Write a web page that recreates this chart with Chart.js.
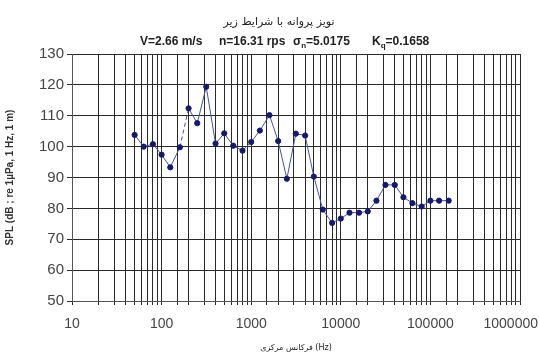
<!DOCTYPE html>
<html>
<head>
<meta charset="utf-8">
<script src="https://cdn.jsdelivr.net/npm/chart.js@4/dist/chart.umd.min.js"></script>
<style>
  html, body { margin: 0; padding: 0; background: #ffffff; }
  #wrap { width: 539px; height: 357px; position: relative; }
</style>
</head>
<body>
<div id="wrap"><canvas id="splChart"></canvas></div>
<script>
// one-third octave centre frequencies (Hz)
const bandFreqs = [50, 63, 80, 100, 125, 160, 200, 250, 315, 400, 500, 630, 800, 1000,
    1250, 1600, 2000, 2500, 3150, 4000, 5000, 6300, 8000, 10000, 12500, 16000, 20000,
    25000, 31500, 40000, 50000, 63000, 80000, 100000, 125000, 160000];

// sound pressure level per band (dB)
const splValues = [103.8, 100, 100.8, 97.4, 93.3, 99.8, 112.4, 107.6, 119.4, 101, 104.3, 100.3,
    98.7, 101.5, 105.2, 110.2, 101.8, 89.6, 104.2, 103.6, 90.3, 79.6, 75.3, 76.7, 78.6,
    78.6, 79, 82.5, 87.6, 87.6, 83.6, 81.7, 80.6, 82.5, 82.5, 82.5];

const decadeLabels = [10, 100, 1000, 10000, 100000, 1000000];
const yTicks = [50, 60, 70, 80, 90, 100, 110, 120, 130];

const headerLine = 'نویز پروانه با شرایط زیر';
const xTitle = 'فرکانس مرکزی (Hz)';

const points = bandFreqs.map((f, i) => ({ x: f, y: splValues[i] }));
const lastDecade = decadeLabels[decadeLabels.length - 1];
const tickFont = '14px "Liberation Sans"';

// header: persian caption plus run conditions with subscripts
const headerPlugin = {
    id: 'header',
    afterDraw(chart) {
        const c = chart.ctx;
        c.save();
        c.fillStyle = '#222';
        c.textBaseline = 'alphabetic';
        c.textAlign = 'center';
        c.font = '11px "DejaVu Sans"';
        c.fillText(headerLine, 279, 25);

        const big = 'bold 12px "Liberation Sans"';
        const small = 'bold 8px "Liberation Sans"';
        const groups = [
            [140, [['V=2.66 m/s', false]]],
            [219, [['n=16.31 rps', false]]],
            [293, [['σ', false], ['n', true], ['=5.0175', false]]],
            [372, [['K', false], ['q', true], ['=0.1658', false]]]
        ];
        c.textAlign = 'left';
        groups.forEach(([x0, parts]) => {
            let x = x0;
            parts.forEach(([txt, sub]) => {
                c.font = sub ? small : big;
                c.fillText(txt, x, sub ? 48 : 45);
                x += c.measureText(txt).width;
            });
        });

        // the last decade label sits against the right edge
        const xs = chart.scales.x;
        c.font = tickFont;
        c.fillStyle = '#444';
        c.textAlign = 'right';
        c.textBaseline = 'middle';
        c.fillText(String(lastDecade), 538, xs.top + 11 + 4 + 8);
        c.restore();
    }
};

const ctx = document.getElementById('splChart').getContext('2d');

new Chart(ctx, {
    type: 'scatter',
    data: {
        datasets: [{
            data: points,
            showLine: true,
            borderColor: '#4a4fa6',
            borderWidth: 1,
            backgroundColor: '#17196b',
            pointBackgroundColor: '#17196b',
            pointBorderColor: '#17196b',
            pointRadius: 2.6,
            segment: {
                borderDash: s => (s.p0DataIndex === 5 ? [4, 3] : undefined)
            }
        }]
    },
    options: {
        responsive: true,
        maintainAspectRatio: false,
        animation: false,
        layout: { padding: { top: 54, right: 19, left: 0, bottom: 0 } },
        plugins: {
            legend: { display: false },
            tooltip: { enabled: false }
        },
        scales: {
            x: {
                type: 'logarithmic',
                min: 10,
                max: 1000000,
                afterFit: s => { s.height = 56; s.paddingLeft = 0; s.paddingRight = 0; },
                grid: { color: '#2a2a2a', lineWidth: 1, tickLength: 4 },
                border: { color: '#555' },
                ticks: {
                    autoSkip: false,
                    maxRotation: 0,
                    color: '#444',
                    font: { family: 'Liberation Sans', size: 14 },
                    padding: 11,
                    callback: v => (decadeLabels.includes(v) && v !== lastDecade ? String(v) : '')
                },
                title: {
                    display: true,
                    text: xTitle,
                    color: '#222',
                    font: { family: 'DejaVu Sans', size: 8 },
                    padding: { top: 2 }
                }
            },
            y: {
                min: 50,
                max: 130,
                afterFit: s => { s.width = 72; s.paddingTop = 0; s.paddingBottom = 0; },
                afterBuildTicks: s => { s.ticks = yTicks.map(v => ({ value: v })); },
                grid: { color: '#2a2a2a', lineWidth: 1, tickLength: 5 },
                border: { color: '#555' },
                ticks: {
                    color: '#444',
                    font: { family: 'Liberation Sans', size: 15 },
                    padding: 3
                },
                title: {
                    display: true,
                    text: 'SPL (dB ; re 1µPa, 1 Hz, 1 m)',
                    color: '#333',
                    font: { family: 'Liberation Sans', size: 10, weight: 'bold' },
                    padding: { bottom: 4 }
                }
            }
        }
    },
    plugins: [headerPlugin]
});
</script>
</body>
</html>
